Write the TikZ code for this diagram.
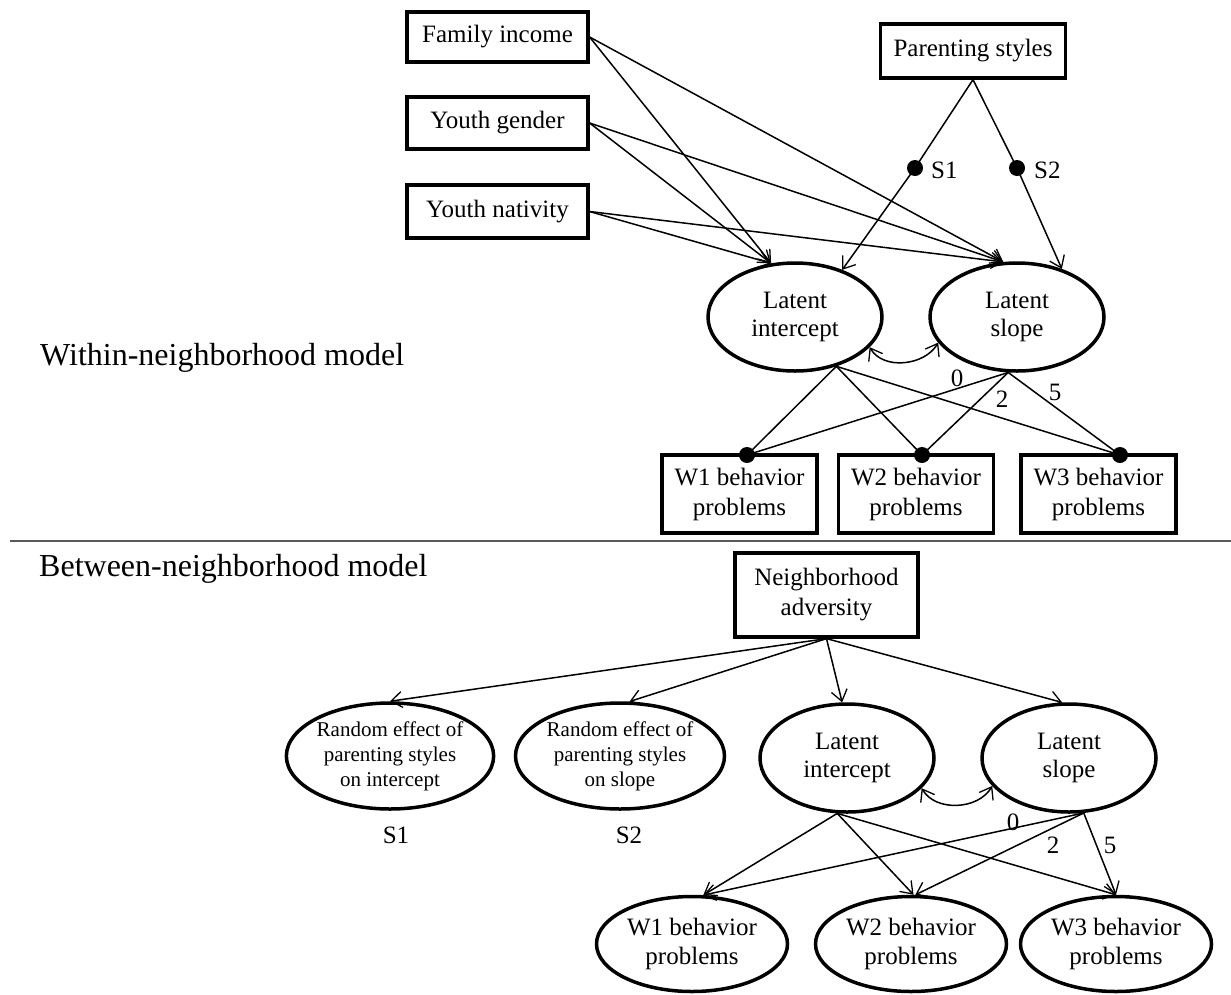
\documentclass[tikz,border=0pt]{standalone}
\usepackage{fontspec}
\setmainfont{Liberation Serif}
\usetikzlibrary{shapes.geometric,arrows.meta}
\tikzset{
  box/.style={draw, line width=3.2pt, inner sep=0pt, align=center, font=\fontsize{25}{30}\selectfont},
  ell/.style={draw, ellipse, line width=3.5pt, inner sep=0pt, align=center, font=\fontsize{25}{28.5}\selectfont},
  rell/.style={draw, ellipse, line width=3.5pt, inner sep=0pt, align=center, font=\fontsize{21}{25}\selectfont, minimum height=106pt},
  dot/.style={circle, fill=black, inner sep=0pt, minimum size=16pt},
  conn/.style={line width=1.5pt},
  arr/.style={line width=1.5pt, -{Straight Barb[length=11pt,width=16pt,line width=1.3pt]}},
  arrboth/.style={line width=1.5pt, {Straight Barb[length=11pt,width=16pt,line width=1.3pt]}-{Straight Barb[length=11pt,width=16pt,line width=1.3pt]}},
  lab/.style={font=\fontsize{25}{28}\selectfont, inner sep=0pt},
  title/.style={font=\fontsize{32}{36}\selectfont, inner sep=0pt, anchor=west}
}
\begin{document}
\begin{tikzpicture}[x=1pt,y=-1pt]
\useasboundingbox (0,0) rectangle (1231,994);
% ---------- Within ----------
\node[box, minimum width=181pt, minimum height=50pt] (fi) at (497.5,37) {Family income};
\node[box, minimum width=181pt, minimum height=52pt] (yg) at (497.5,123) {Youth gender};
\node[box, minimum width=181pt, minimum height=53pt] (yn) at (497.5,211.5) {Youth nativity};
\node[box, minimum width=185pt, minimum height=54pt] (ps) at (973,51) {Parenting styles};
\node[dot] (s1d) at (915,168) {};
\node[dot] (s2d) at (1017,168) {};
\node[lab, anchor=west] (s1l) at (931,170) {S1};
\node[lab, anchor=west] (s2l) at (1034,170) {S2};
\node[ell, minimum width=174pt, minimum height=108pt] (li) at (795,317) {Latent\\intercept};
\node[ell, minimum width=174pt, minimum height=108pt] (ls) at (1017,317) {Latent\\slope};
\node[box, minimum width=155pt, minimum height=78pt] (w1) at (739.5,494) {W1 behavior\\problems};
\node[box, minimum width=155pt, minimum height=78pt] (w2) at (916,494) {W2 behavior\\problems};
\node[box, minimum width=155pt, minimum height=78pt] (w3) at (1098.5,494) {W3 behavior\\problems};
\node[dot] (d1) at (747,455) {};
\node[dot] (d2) at (922,455) {};
\node[dot] (d3) at (1120,455) {};
\node[title] (wt) at (40,358) {Within-neighborhood model};

\foreach \s in {fi,yg,yn}{
  \draw[arr] (\s.east) -- (li.114);
  \draw[arr] (\s.east) -- (ls.104);
}
\draw[arr] (ps.south) -- (s1d.center) -- (li.45);
\draw[arr] (ps.south) -- (s2d.center) -- (ls.47);
\draw[arrboth] (li.-22) to[out=-60,in=-120] (ls.-162);
\foreach \d in {d1,d2,d3}{
  \draw[conn] (li.-50) -- (\d.center);
  \draw[conn] (ls.-99) -- (\d.center);
}
\node[lab] (l0) at (957,378) {0};
\node[lab] (l2) at (1002,399) {2};
\node[lab] (l5) at (1055,392) {5};

% separator
\draw[line width=1.8pt, black!65] (10,541) -- (1231,541);

% ---------- Between ----------
\node[title] (bt) at (39,569) {Between-neighborhood model};
\node[box, minimum width=183pt, minimum height=84pt] (nb) at (826.5,595) {Neighborhood\\adversity};
\node[rell, minimum width=207pt] (re1) at (390,756) {Random effect of\\parenting styles\\on intercept};
\node[rell, minimum width=209pt] (re2) at (620,756) {Random effect of\\parenting styles\\on slope};
\node[lab] (bs1) at (396,835) {S1};
\node[lab] (bs2) at (629,835) {S2};
\node[ell, minimum width=174pt, minimum height=108pt] (bi) at (847,758) {Latent\\intercept};
\node[ell, minimum width=174pt, minimum height=108pt] (bs) at (1069,758) {Latent\\slope};
\node[ell, minimum width=191pt, minimum height=95pt] (b1) at (692,944) {W1 behavior\\problems};
\node[ell, minimum width=191pt, minimum height=95pt] (b2) at (911,944) {W2 behavior\\problems};
\node[ell, minimum width=191pt, minimum height=95pt] (b3) at (1116,944) {W3 behavior\\problems};

\draw[arr] (nb.south) -- (re1.north);
\draw[arr] (nb.south) -- (re2.80);
\draw[arr] (nb.south) -- (bi.95);
\draw[arr] (nb.south) -- (bs.97);
\draw[arrboth] (bi.-22) to[out=-60,in=-120] (bs.-160);
\draw[arr] (bi.-100) -- (b1.77);
\draw[arr] (bs.-75) -- (b1.77);
\draw[arr] (bi.-100) -- (b2.87);
\draw[arr] (bs.-75) -- (b2.85);
\draw[arr] (bi.-100) -- (b3.north);
\draw[arr] (bs.-75) -- (b3.north);
\node[lab] (m0) at (1013,822) {0};
\node[lab] (m2) at (1053,845) {2};
\node[lab] (m5) at (1110,845) {5};
\end{tikzpicture}
\end{document}
